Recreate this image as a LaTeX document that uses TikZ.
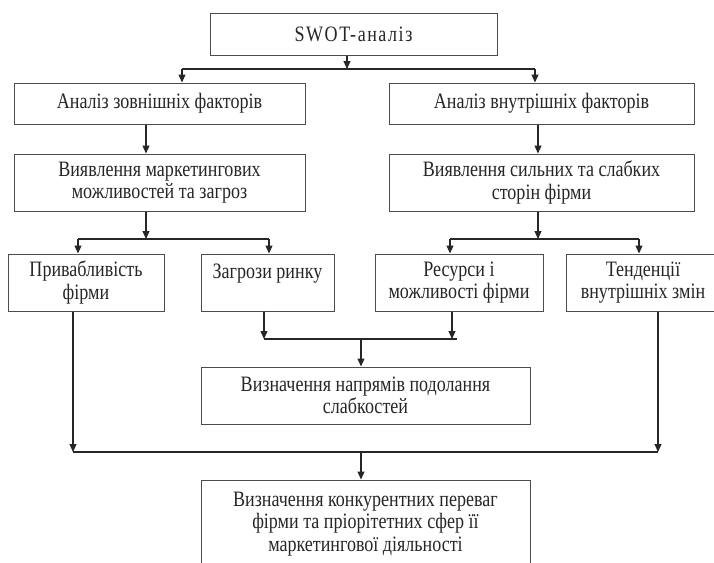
\documentclass[tikz,border=0pt]{standalone}
\usepackage{fontspec}
\setmainfont{Liberation Serif}[FakeStretch=0.82]
\usetikzlibrary{arrows.meta}

\tikzset{
  box/.style={draw=black!70, line width=1pt, rectangle, align=center,
    inner sep=2pt, minimum height=57pt, text=black!85,
    font=\fontsize{22}{22.5}\selectfont},
  arr/.style={-{Triangle[length=8pt,width=7pt]}, line width=1.1pt, black!85},
  ln/.style={line width=1.1pt, black!85}
}

\begin{document}
\begin{tikzpicture}[x=1pt,y=-1pt]
\def\ya{69}
\def\yb{239}
\def\yc{339}
\def\yd{452}
\useasboundingbox (0,0) rectangle (714,562);
\clip (0,0) rectangle (714,562);

  \node[box, minimum width=287pt, minimum height=42pt] (swot) at (353.5,34)
    {\addfontfeatures{LetterSpace=7}SWOT-аналіз};
  \node[box, minimum width=291pt, minimum height=41pt] (ext) at (159.5,103.5) {Аналіз зовнішніх факторів};
  \node[box, minimum width=305pt, minimum height=41pt] (int) at (541.5,103.5) {Аналіз внутрішніх факторів};
  \node[box, minimum width=291pt] (opp) at (159.5,182.5) {Виявлення маркетингових\\можливостей та загроз};
  \node[box, minimum width=305pt] (sw) at (541.5,182.5) {Виявлення сильних та слабких\\сторін фірми};
  \node[box, minimum width=156pt] (attr) at (86,282.5) {Привабливість\\фірми};
  \node[box, minimum width=133pt] (threat) at (267.5,282.5) {Загрози ринку\\\mbox{}};
  \node[box, minimum width=168pt] (res) at (459,282.5) {Ресурси і\\можливості фірми};
  \node[box, minimum width=154pt] (trend) at (643,282.5) {Тенденції\\внутрішніх змін};
  \node[box, minimum width=329pt] (weak) at (365.5,395.5) {Визначення напрямів подолання\\слабкостей};
  \node[box, minimum width=329pt, minimum height=88pt] (adv) at (365.5,524)
    {Визначення конкурентних переваг\\фірми та пріорітетних сфер її\\маркетингової діяльності};

  % first split
  \coordinate (s0) at (347,\ya);
  \coordinate (s1) at (182,\ya);
  \coordinate (s2) at (535,\ya);
  \draw[arr] (swot.south -| s0) -- (s0);
  \draw[ln] (s1) -- (s2);
  \draw[arr] (s1) -- (s1 |- ext.north);
  \draw[arr] (s2) -- (s2 |- int.north);
  \coordinate (e0) at (146,0);
  \coordinate (i0) at (538,0);
  \draw[arr] (e0 |- ext.south) -- (e0 |- opp.north);
  \draw[arr] (i0 |- int.south) -- (i0 |- sw.north);

  % second split
  \coordinate (o0) at (146,\yb);
  \coordinate (o1) at (78,\yb);
  \coordinate (o2) at (269,\yb);
  \coordinate (w0) at (538,\yb);
  \coordinate (w1) at (450,\yb);
  \coordinate (w2) at (639,\yb);
  \draw[arr] (opp.south -| o0) -- (o0);
  \draw[arr] (sw.south -| w0) -- (w0);
  \draw[ln] (o1) -- (o2);
  \draw[ln] (w1) -- (w2);
  \foreach \p/\q in {o1/attr, o2/threat, w1/res, w2/trend}
    \draw[arr] (\p) -- (\p |- \q.north);

  % join to weak
  \coordinate (t0) at (264,\yc);
  \coordinate (r0) at (452,\yc);
  \coordinate (k0) at (361,\yc);
  \draw[arr] (threat.south -| t0) -- (t0);
  \draw[arr] (res.south -| r0) -- (r0);
  \draw[ln] (t0) -- (457,\yc);
  \draw[arr] (k0) -- (k0 |- weak.north);

  % join to adv
  \coordinate (p0) at (73,\yd);
  \coordinate (n0) at (658,\yd);
  \coordinate (m0) at (361,\yd);
  \draw[arr] (attr.south -| p0) -- (p0);
  \draw[arr] (trend.south -| n0) -- (n0);
  \draw[ln] (p0) -- (n0);
  \draw[arr] (m0) -- (m0 |- adv.north);
\end{tikzpicture}
\end{document}
